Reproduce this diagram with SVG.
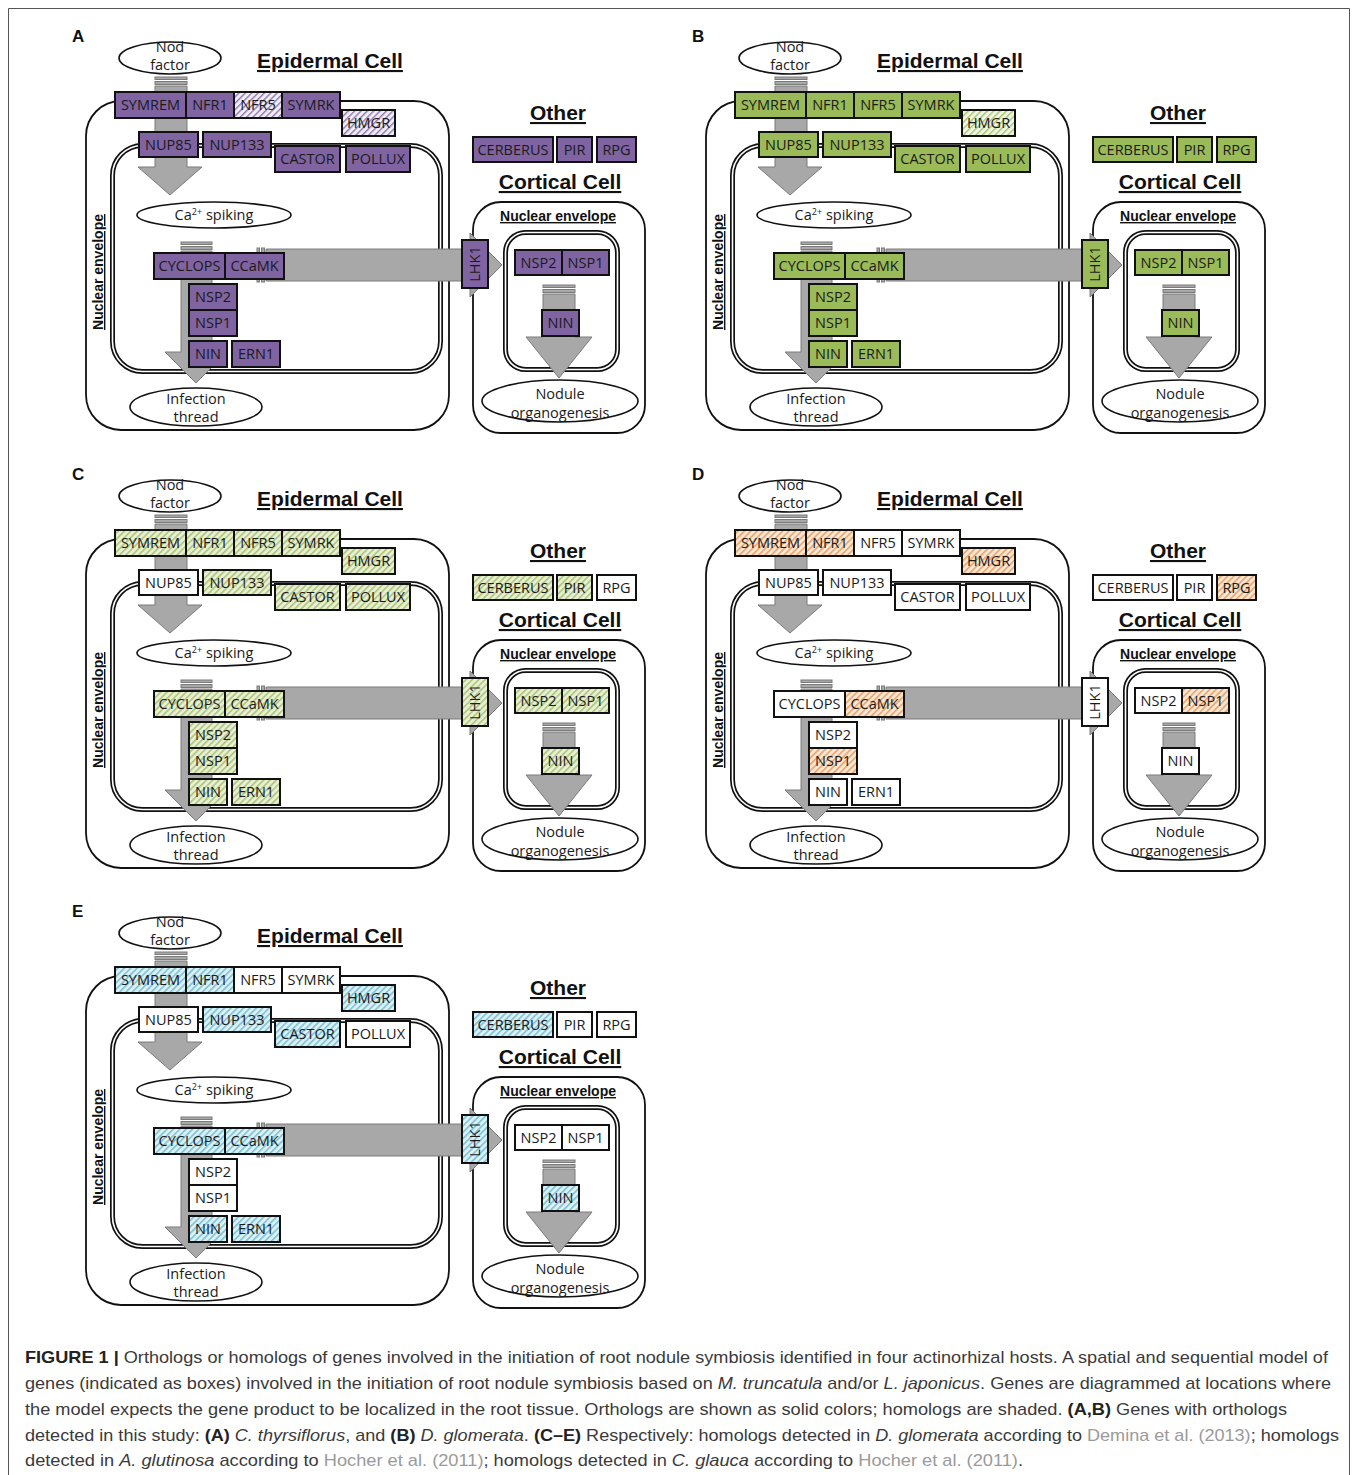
<svg xmlns="http://www.w3.org/2000/svg" width="1358" height="1475" viewBox="0 0 1358 1475">
<defs>
<pattern id="hP" width="4.5" height="4.5" patternUnits="userSpaceOnUse" patternTransform="rotate(45)"><rect width="4.5" height="4.5" fill="#f1edf6"/><rect width="1.4" height="4.5" fill="#8e77b0"/></pattern>
<pattern id="hG" width="4.5" height="4.5" patternUnits="userSpaceOnUse" patternTransform="rotate(45)"><rect width="4.5" height="4.5" fill="#f0f5e4"/><rect width="1.4" height="4.5" fill="#a9c46e"/></pattern>
<pattern id="hC" width="4.5" height="4.5" patternUnits="userSpaceOnUse" patternTransform="rotate(45)"><rect width="4.5" height="4.5" fill="#e8efd6"/><rect width="1.6" height="4.5" fill="#adc676"/></pattern>
<pattern id="hO" width="4.5" height="4.5" patternUnits="userSpaceOnUse" patternTransform="rotate(45)"><rect width="4.5" height="4.5" fill="#fce6d4"/><rect width="1.6" height="4.5" fill="#e8a56c"/></pattern>
<pattern id="hB" width="4.5" height="4.5" patternUnits="userSpaceOnUse" patternTransform="rotate(45)"><rect width="4.5" height="4.5" fill="#dcf0f5"/><rect width="1.6" height="4.5" fill="#7cc2d6"/></pattern>
<style>
text{font-family:"Liberation Sans",Arial,sans-serif}
.cell{fill:none;stroke:#111;stroke-width:1.8}
.dA{fill:none;stroke:#111;stroke-width:5}
.dB{fill:none;stroke:#fff;stroke-width:1.6}
.arr{fill:#a8a8a8;stroke:#7a7a7a;stroke-width:1}
.ell{fill:#fff;stroke:#111;stroke-width:1.6}
.bx rect{stroke:#111;stroke-width:2}
.t{font-family:"Open Sans","Liberation Sans",sans-serif;font-size:14.5px;fill:#1a1a1a;text-anchor:middle}
.h{font-size:21px;font-weight:bold;text-decoration:underline;text-anchor:middle;fill:#111}
.ne{font-size:14px;font-weight:bold;text-decoration:underline;text-anchor:middle;fill:#111}
.pl{font-size:17px;font-weight:bold;fill:#111}
.p{fill:#8064a2}.pH{fill:url(#hP)}.g{fill:#9bbb59}.gH{fill:url(#hG)}.c{fill:url(#hC)}.o{fill:url(#hO)}.b{fill:url(#hB)}.w{fill:#fff}
.cap{font-size:17px;fill:#3a3a3a}
.ref{fill:#9a9a9a}
</style>
</defs>
<rect width="1358" height="1475" fill="#fff"/>
<path d="M8.5,1475 V8.5 H1349.5 V1475" fill="none" stroke="#555" stroke-width="1"/>

<!-- PANEL A -->
<g id="panelA">
<text class="pl" x="72" y="42">A</text>
<g id="A-cells">
<rect class="cell" x="86" y="101" width="363" height="329" rx="35"/>
<rect class="dA" x="112.5" y="145.5" width="328" height="226" rx="30"/><rect class="dB" x="112.5" y="145.5" width="328" height="226" rx="30"/>
<rect class="cell" x="473" y="202" width="172" height="231" rx="28"/>
<rect class="dA" x="505.5" y="232.5" width="112" height="137" rx="20"/><rect class="dB" x="505.5" y="232.5" width="112" height="137" rx="20"/>
</g>
<g id="A-connectors">
<rect class="arr" x="155" y="77" width="32" height="2.5"/><rect class="arr" x="155" y="81.5" width="32" height="3"/>
<polygon class="arr" points="155,86 187,86 187,167 202,167 170,195 138,167 155,167"/>
<rect class="arr" x="181" y="242" width="31" height="2.5"/><rect class="arr" x="181" y="246.5" width="31" height="3"/>
<polygon class="arr" points="181,251 212,251 212,352 227,352 196,383 165,352 181,352"/>
<rect class="arr" x="257" y="248" width="2.5" height="34"/><rect class="arr" x="261.5" y="248" width="3" height="34"/>
<polygon class="arr" points="266,249 470,249 470,233 502,265 470,297 470,281 266,281"/>
<rect class="arr" x="543" y="285" width="32" height="2.5"/><rect class="arr" x="543" y="289.5" width="32" height="3"/>
<polygon class="arr" points="543,294 575,294 575,337 592,337 559,378 526,337 543,337"/>
</g>
<g id="A-nod"><ellipse class="ell" cx="170" cy="58" rx="51" ry="16"/><text class="t" x="170" y="52">Nod</text><text class="t" x="170" y="70">factor</text></g>
<g id="A-ca"><ellipse class="ell" cx="214" cy="215" rx="77" ry="13"/><text class="t" x="214" y="220">Ca<tspan font-size="9" dy="-5">2+</tspan><tspan dy="5"> spiking</tspan></text></g>
<g id="A-it"><ellipse class="ell" cx="196" cy="407" rx="66" ry="19"/><text class="t" x="196" y="404">Infection</text><text class="t" x="196" y="422">thread</text></g>
<g id="A-no"><ellipse class="ell" cx="560" cy="401" rx="78" ry="21"/><text class="t" x="560" y="399">Nodule</text><text class="t" x="560" y="418">organogenesis</text></g>
<g id="A-SYMREM" class="bx"><rect class="p" x="115" y="92" width="71" height="26"/><text class="t" x="150.5" y="110">SYMREM</text></g>
<g id="A-NFR1" class="bx"><rect class="p" x="186" y="92" width="48" height="26"/><text class="t" x="210" y="110">NFR1</text></g>
<g id="A-NFR5" class="bx"><rect class="pH" x="234" y="92" width="48" height="26"/><text class="t" x="258" y="110">NFR5</text></g>
<g id="A-SYMRK" class="bx"><rect class="p" x="282" y="92" width="58" height="26"/><text class="t" x="311" y="110">SYMRK</text></g>
<g id="A-HMGR" class="bx"><rect class="pH" x="342" y="110" width="53" height="26"/><text class="t" x="368.5" y="128">HMGR</text></g>
<g id="A-NUP85" class="bx"><rect class="p" x="139" y="132" width="59" height="25"/><text class="t" x="168.5" y="149.5">NUP85</text></g>
<g id="A-NUP133" class="bx"><rect class="p" x="203" y="132" width="68" height="25"/><text class="t" x="237" y="149.5">NUP133</text></g>
<g id="A-CASTOR" class="bx"><rect class="p" x="275" y="146" width="65" height="26"/><text class="t" x="307.5" y="164">CASTOR</text></g>
<g id="A-POLLUX" class="bx"><rect class="p" x="346" y="146" width="64" height="26"/><text class="t" x="378" y="164">POLLUX</text></g>
<g id="A-CERBERUS" class="bx"><rect class="p" x="473" y="137" width="80" height="25"/><text class="t" x="513" y="154.5">CERBERUS</text></g>
<g id="A-PIR" class="bx"><rect class="p" x="557" y="137" width="35" height="25"/><text class="t" x="574.5" y="154.5">PIR</text></g>
<g id="A-RPG" class="bx"><rect class="p" x="597" y="137" width="39" height="25"/><text class="t" x="616.5" y="154.5">RPG</text></g>
<g id="A-CYCLOPS" class="bx"><rect class="p" x="154" y="253" width="71" height="26"/><text class="t" x="189.5" y="271">CYCLOPS</text></g>
<g id="A-CCaMK" class="bx"><rect class="p" x="225" y="253" width="59" height="26"/><text class="t" x="254.5" y="271">CCaMK</text></g>
<g id="A-NSP2" class="bx"><rect class="p" x="189" y="284" width="48" height="26"/><text class="t" x="213" y="302">NSP2</text></g>
<g id="A-NSP1" class="bx"><rect class="p" x="189" y="310" width="48" height="26"/><text class="t" x="213" y="328">NSP1</text></g>
<g id="A-NIN" class="bx"><rect class="p" x="189" y="341" width="38" height="26"/><text class="t" x="208" y="359">NIN</text></g>
<g id="A-ERN1" class="bx"><rect class="p" x="232" y="341" width="48" height="26"/><text class="t" x="256" y="359">ERN1</text></g>
<g id="A-LHK1" class="bx"><rect class="p" x="462" y="240" width="26" height="48"/><text class="t" transform="translate(475,264) rotate(-90)" x="0" y="5">LHK1</text></g>
<g id="A-cNSP2" class="bx"><rect class="p" x="515" y="250" width="47" height="25"/><text class="t" x="538.5" y="267.5">NSP2</text></g>
<g id="A-cNSP1" class="bx"><rect class="p" x="562" y="250" width="47" height="25"/><text class="t" x="585.5" y="267.5">NSP1</text></g>
<g id="A-cNIN" class="bx"><rect class="p" x="542" y="310" width="37" height="26"/><text class="t" x="560.5" y="328">NIN</text></g>
<text class="h" x="330" y="68">Epidermal Cell</text>
<text class="h" x="558" y="120">Other</text>
<text class="h" x="560" y="189">Cortical Cell</text>
<text class="ne" x="558" y="221">Nuclear envelope</text>
<text class="ne" transform="translate(103,272) rotate(-90)" x="0" y="0">Nuclear envelope</text>
</g>

<!-- PANEL B -->
<g id="panelB" transform="translate(620,0)">
<text class="pl" x="72" y="42">B</text>
<g id="B-cells">
<rect class="cell" x="86" y="101" width="363" height="329" rx="35"/>
<rect class="dA" x="112.5" y="145.5" width="328" height="226" rx="30"/><rect class="dB" x="112.5" y="145.5" width="328" height="226" rx="30"/>
<rect class="cell" x="473" y="202" width="172" height="231" rx="28"/>
<rect class="dA" x="505.5" y="232.5" width="112" height="137" rx="20"/><rect class="dB" x="505.5" y="232.5" width="112" height="137" rx="20"/>
</g>
<g id="B-connectors">
<rect class="arr" x="155" y="77" width="32" height="2.5"/><rect class="arr" x="155" y="81.5" width="32" height="3"/>
<polygon class="arr" points="155,86 187,86 187,167 202,167 170,195 138,167 155,167"/>
<rect class="arr" x="181" y="242" width="31" height="2.5"/><rect class="arr" x="181" y="246.5" width="31" height="3"/>
<polygon class="arr" points="181,251 212,251 212,352 227,352 196,383 165,352 181,352"/>
<rect class="arr" x="257" y="248" width="2.5" height="34"/><rect class="arr" x="261.5" y="248" width="3" height="34"/>
<polygon class="arr" points="266,249 470,249 470,233 502,265 470,297 470,281 266,281"/>
<rect class="arr" x="543" y="285" width="32" height="2.5"/><rect class="arr" x="543" y="289.5" width="32" height="3"/>
<polygon class="arr" points="543,294 575,294 575,337 592,337 559,378 526,337 543,337"/>
</g>
<g id="B-nod"><ellipse class="ell" cx="170" cy="58" rx="51" ry="16"/><text class="t" x="170" y="52">Nod</text><text class="t" x="170" y="70">factor</text></g>
<g id="B-ca"><ellipse class="ell" cx="214" cy="215" rx="77" ry="13"/><text class="t" x="214" y="220">Ca<tspan font-size="9" dy="-5">2+</tspan><tspan dy="5"> spiking</tspan></text></g>
<g id="B-it"><ellipse class="ell" cx="196" cy="407" rx="66" ry="19"/><text class="t" x="196" y="404">Infection</text><text class="t" x="196" y="422">thread</text></g>
<g id="B-no"><ellipse class="ell" cx="560" cy="401" rx="78" ry="21"/><text class="t" x="560" y="399">Nodule</text><text class="t" x="560" y="418">organogenesis</text></g>
<g id="B-SYMREM" class="bx"><rect class="g" x="115" y="92" width="71" height="26"/><text class="t" x="150.5" y="110">SYMREM</text></g>
<g id="B-NFR1" class="bx"><rect class="g" x="186" y="92" width="48" height="26"/><text class="t" x="210" y="110">NFR1</text></g>
<g id="B-NFR5" class="bx"><rect class="g" x="234" y="92" width="48" height="26"/><text class="t" x="258" y="110">NFR5</text></g>
<g id="B-SYMRK" class="bx"><rect class="g" x="282" y="92" width="58" height="26"/><text class="t" x="311" y="110">SYMRK</text></g>
<g id="B-HMGR" class="bx"><rect class="gH" x="342" y="110" width="53" height="26"/><text class="t" x="368.5" y="128">HMGR</text></g>
<g id="B-NUP85" class="bx"><rect class="g" x="139" y="132" width="59" height="25"/><text class="t" x="168.5" y="149.5">NUP85</text></g>
<g id="B-NUP133" class="bx"><rect class="g" x="203" y="132" width="68" height="25"/><text class="t" x="237" y="149.5">NUP133</text></g>
<g id="B-CASTOR" class="bx"><rect class="g" x="275" y="146" width="65" height="26"/><text class="t" x="307.5" y="164">CASTOR</text></g>
<g id="B-POLLUX" class="bx"><rect class="g" x="346" y="146" width="64" height="26"/><text class="t" x="378" y="164">POLLUX</text></g>
<g id="B-CERBERUS" class="bx"><rect class="g" x="473" y="137" width="80" height="25"/><text class="t" x="513" y="154.5">CERBERUS</text></g>
<g id="B-PIR" class="bx"><rect class="g" x="557" y="137" width="35" height="25"/><text class="t" x="574.5" y="154.5">PIR</text></g>
<g id="B-RPG" class="bx"><rect class="g" x="597" y="137" width="39" height="25"/><text class="t" x="616.5" y="154.5">RPG</text></g>
<g id="B-CYCLOPS" class="bx"><rect class="g" x="154" y="253" width="71" height="26"/><text class="t" x="189.5" y="271">CYCLOPS</text></g>
<g id="B-CCaMK" class="bx"><rect class="g" x="225" y="253" width="59" height="26"/><text class="t" x="254.5" y="271">CCaMK</text></g>
<g id="B-NSP2" class="bx"><rect class="g" x="189" y="284" width="48" height="26"/><text class="t" x="213" y="302">NSP2</text></g>
<g id="B-NSP1" class="bx"><rect class="g" x="189" y="310" width="48" height="26"/><text class="t" x="213" y="328">NSP1</text></g>
<g id="B-NIN" class="bx"><rect class="g" x="189" y="341" width="38" height="26"/><text class="t" x="208" y="359">NIN</text></g>
<g id="B-ERN1" class="bx"><rect class="g" x="232" y="341" width="48" height="26"/><text class="t" x="256" y="359">ERN1</text></g>
<g id="B-LHK1" class="bx"><rect class="g" x="462" y="240" width="26" height="48"/><text class="t" transform="translate(475,264) rotate(-90)" x="0" y="5">LHK1</text></g>
<g id="B-cNSP2" class="bx"><rect class="g" x="515" y="250" width="47" height="25"/><text class="t" x="538.5" y="267.5">NSP2</text></g>
<g id="B-cNSP1" class="bx"><rect class="g" x="562" y="250" width="47" height="25"/><text class="t" x="585.5" y="267.5">NSP1</text></g>
<g id="B-cNIN" class="bx"><rect class="g" x="542" y="310" width="37" height="26"/><text class="t" x="560.5" y="328">NIN</text></g>
<text class="h" x="330" y="68">Epidermal Cell</text>
<text class="h" x="558" y="120">Other</text>
<text class="h" x="560" y="189">Cortical Cell</text>
<text class="ne" x="558" y="221">Nuclear envelope</text>
<text class="ne" transform="translate(103,272) rotate(-90)" x="0" y="0">Nuclear envelope</text>
</g>

<!-- PANEL C -->
<g id="panelC" transform="translate(0,438)">
<text class="pl" x="72" y="42">C</text>
<g id="C-cells">
<rect class="cell" x="86" y="101" width="363" height="329" rx="35"/>
<rect class="dA" x="112.5" y="145.5" width="328" height="226" rx="30"/><rect class="dB" x="112.5" y="145.5" width="328" height="226" rx="30"/>
<rect class="cell" x="473" y="202" width="172" height="231" rx="28"/>
<rect class="dA" x="505.5" y="232.5" width="112" height="137" rx="20"/><rect class="dB" x="505.5" y="232.5" width="112" height="137" rx="20"/>
</g>
<g id="C-connectors">
<rect class="arr" x="155" y="77" width="32" height="2.5"/><rect class="arr" x="155" y="81.5" width="32" height="3"/>
<polygon class="arr" points="155,86 187,86 187,167 202,167 170,195 138,167 155,167"/>
<rect class="arr" x="181" y="242" width="31" height="2.5"/><rect class="arr" x="181" y="246.5" width="31" height="3"/>
<polygon class="arr" points="181,251 212,251 212,352 227,352 196,383 165,352 181,352"/>
<rect class="arr" x="257" y="248" width="2.5" height="34"/><rect class="arr" x="261.5" y="248" width="3" height="34"/>
<polygon class="arr" points="266,249 470,249 470,233 502,265 470,297 470,281 266,281"/>
<rect class="arr" x="543" y="285" width="32" height="2.5"/><rect class="arr" x="543" y="289.5" width="32" height="3"/>
<polygon class="arr" points="543,294 575,294 575,337 592,337 559,378 526,337 543,337"/>
</g>
<g id="C-nod"><ellipse class="ell" cx="170" cy="58" rx="51" ry="16"/><text class="t" x="170" y="52">Nod</text><text class="t" x="170" y="70">factor</text></g>
<g id="C-ca"><ellipse class="ell" cx="214" cy="215" rx="77" ry="13"/><text class="t" x="214" y="220">Ca<tspan font-size="9" dy="-5">2+</tspan><tspan dy="5"> spiking</tspan></text></g>
<g id="C-it"><ellipse class="ell" cx="196" cy="407" rx="66" ry="19"/><text class="t" x="196" y="404">Infection</text><text class="t" x="196" y="422">thread</text></g>
<g id="C-no"><ellipse class="ell" cx="560" cy="401" rx="78" ry="21"/><text class="t" x="560" y="399">Nodule</text><text class="t" x="560" y="418">organogenesis</text></g>
<g id="C-SYMREM" class="bx"><rect class="c" x="115" y="92" width="71" height="26"/><text class="t" x="150.5" y="110">SYMREM</text></g>
<g id="C-NFR1" class="bx"><rect class="c" x="186" y="92" width="48" height="26"/><text class="t" x="210" y="110">NFR1</text></g>
<g id="C-NFR5" class="bx"><rect class="c" x="234" y="92" width="48" height="26"/><text class="t" x="258" y="110">NFR5</text></g>
<g id="C-SYMRK" class="bx"><rect class="c" x="282" y="92" width="58" height="26"/><text class="t" x="311" y="110">SYMRK</text></g>
<g id="C-HMGR" class="bx"><rect class="c" x="342" y="110" width="53" height="26"/><text class="t" x="368.5" y="128">HMGR</text></g>
<g id="C-NUP85" class="bx"><rect class="w" x="139" y="132" width="59" height="25"/><text class="t" x="168.5" y="149.5">NUP85</text></g>
<g id="C-NUP133" class="bx"><rect class="c" x="203" y="132" width="68" height="25"/><text class="t" x="237" y="149.5">NUP133</text></g>
<g id="C-CASTOR" class="bx"><rect class="c" x="275" y="146" width="65" height="26"/><text class="t" x="307.5" y="164">CASTOR</text></g>
<g id="C-POLLUX" class="bx"><rect class="c" x="346" y="146" width="64" height="26"/><text class="t" x="378" y="164">POLLUX</text></g>
<g id="C-CERBERUS" class="bx"><rect class="c" x="473" y="137" width="80" height="25"/><text class="t" x="513" y="154.5">CERBERUS</text></g>
<g id="C-PIR" class="bx"><rect class="c" x="557" y="137" width="35" height="25"/><text class="t" x="574.5" y="154.5">PIR</text></g>
<g id="C-RPG" class="bx"><rect class="w" x="597" y="137" width="39" height="25"/><text class="t" x="616.5" y="154.5">RPG</text></g>
<g id="C-CYCLOPS" class="bx"><rect class="c" x="154" y="253" width="71" height="26"/><text class="t" x="189.5" y="271">CYCLOPS</text></g>
<g id="C-CCaMK" class="bx"><rect class="c" x="225" y="253" width="59" height="26"/><text class="t" x="254.5" y="271">CCaMK</text></g>
<g id="C-NSP2" class="bx"><rect class="c" x="189" y="284" width="48" height="26"/><text class="t" x="213" y="302">NSP2</text></g>
<g id="C-NSP1" class="bx"><rect class="c" x="189" y="310" width="48" height="26"/><text class="t" x="213" y="328">NSP1</text></g>
<g id="C-NIN" class="bx"><rect class="c" x="189" y="341" width="38" height="26"/><text class="t" x="208" y="359">NIN</text></g>
<g id="C-ERN1" class="bx"><rect class="c" x="232" y="341" width="48" height="26"/><text class="t" x="256" y="359">ERN1</text></g>
<g id="C-LHK1" class="bx"><rect class="c" x="462" y="240" width="26" height="48"/><text class="t" transform="translate(475,264) rotate(-90)" x="0" y="5">LHK1</text></g>
<g id="C-cNSP2" class="bx"><rect class="c" x="515" y="250" width="47" height="25"/><text class="t" x="538.5" y="267.5">NSP2</text></g>
<g id="C-cNSP1" class="bx"><rect class="c" x="562" y="250" width="47" height="25"/><text class="t" x="585.5" y="267.5">NSP1</text></g>
<g id="C-cNIN" class="bx"><rect class="c" x="542" y="310" width="37" height="26"/><text class="t" x="560.5" y="328">NIN</text></g>
<text class="h" x="330" y="68">Epidermal Cell</text>
<text class="h" x="558" y="120">Other</text>
<text class="h" x="560" y="189">Cortical Cell</text>
<text class="ne" x="558" y="221">Nuclear envelope</text>
<text class="ne" transform="translate(103,272) rotate(-90)" x="0" y="0">Nuclear envelope</text>
</g>

<!-- PANEL D -->
<g id="panelD" transform="translate(620,438)">
<text class="pl" x="72" y="42">D</text>
<g id="D-cells">
<rect class="cell" x="86" y="101" width="363" height="329" rx="35"/>
<rect class="dA" x="112.5" y="145.5" width="328" height="226" rx="30"/><rect class="dB" x="112.5" y="145.5" width="328" height="226" rx="30"/>
<rect class="cell" x="473" y="202" width="172" height="231" rx="28"/>
<rect class="dA" x="505.5" y="232.5" width="112" height="137" rx="20"/><rect class="dB" x="505.5" y="232.5" width="112" height="137" rx="20"/>
</g>
<g id="D-connectors">
<rect class="arr" x="155" y="77" width="32" height="2.5"/><rect class="arr" x="155" y="81.5" width="32" height="3"/>
<polygon class="arr" points="155,86 187,86 187,167 202,167 170,195 138,167 155,167"/>
<rect class="arr" x="181" y="242" width="31" height="2.5"/><rect class="arr" x="181" y="246.5" width="31" height="3"/>
<polygon class="arr" points="181,251 212,251 212,352 227,352 196,383 165,352 181,352"/>
<rect class="arr" x="257" y="248" width="2.5" height="34"/><rect class="arr" x="261.5" y="248" width="3" height="34"/>
<polygon class="arr" points="266,249 470,249 470,233 502,265 470,297 470,281 266,281"/>
<rect class="arr" x="543" y="285" width="32" height="2.5"/><rect class="arr" x="543" y="289.5" width="32" height="3"/>
<polygon class="arr" points="543,294 575,294 575,337 592,337 559,378 526,337 543,337"/>
</g>
<g id="D-nod"><ellipse class="ell" cx="170" cy="58" rx="51" ry="16"/><text class="t" x="170" y="52">Nod</text><text class="t" x="170" y="70">factor</text></g>
<g id="D-ca"><ellipse class="ell" cx="214" cy="215" rx="77" ry="13"/><text class="t" x="214" y="220">Ca<tspan font-size="9" dy="-5">2+</tspan><tspan dy="5"> spiking</tspan></text></g>
<g id="D-it"><ellipse class="ell" cx="196" cy="407" rx="66" ry="19"/><text class="t" x="196" y="404">Infection</text><text class="t" x="196" y="422">thread</text></g>
<g id="D-no"><ellipse class="ell" cx="560" cy="401" rx="78" ry="21"/><text class="t" x="560" y="399">Nodule</text><text class="t" x="560" y="418">organogenesis</text></g>
<g id="D-SYMREM" class="bx"><rect class="o" x="115" y="92" width="71" height="26"/><text class="t" x="150.5" y="110">SYMREM</text></g>
<g id="D-NFR1" class="bx"><rect class="o" x="186" y="92" width="48" height="26"/><text class="t" x="210" y="110">NFR1</text></g>
<g id="D-NFR5" class="bx"><rect class="w" x="234" y="92" width="48" height="26"/><text class="t" x="258" y="110">NFR5</text></g>
<g id="D-SYMRK" class="bx"><rect class="w" x="282" y="92" width="58" height="26"/><text class="t" x="311" y="110">SYMRK</text></g>
<g id="D-HMGR" class="bx"><rect class="o" x="342" y="110" width="53" height="26"/><text class="t" x="368.5" y="128">HMGR</text></g>
<g id="D-NUP85" class="bx"><rect class="w" x="139" y="132" width="59" height="25"/><text class="t" x="168.5" y="149.5">NUP85</text></g>
<g id="D-NUP133" class="bx"><rect class="w" x="203" y="132" width="68" height="25"/><text class="t" x="237" y="149.5">NUP133</text></g>
<g id="D-CASTOR" class="bx"><rect class="w" x="275" y="146" width="65" height="26"/><text class="t" x="307.5" y="164">CASTOR</text></g>
<g id="D-POLLUX" class="bx"><rect class="w" x="346" y="146" width="64" height="26"/><text class="t" x="378" y="164">POLLUX</text></g>
<g id="D-CERBERUS" class="bx"><rect class="w" x="473" y="137" width="80" height="25"/><text class="t" x="513" y="154.5">CERBERUS</text></g>
<g id="D-PIR" class="bx"><rect class="w" x="557" y="137" width="35" height="25"/><text class="t" x="574.5" y="154.5">PIR</text></g>
<g id="D-RPG" class="bx"><rect class="o" x="597" y="137" width="39" height="25"/><text class="t" x="616.5" y="154.5">RPG</text></g>
<g id="D-CYCLOPS" class="bx"><rect class="w" x="154" y="253" width="71" height="26"/><text class="t" x="189.5" y="271">CYCLOPS</text></g>
<g id="D-CCaMK" class="bx"><rect class="o" x="225" y="253" width="59" height="26"/><text class="t" x="254.5" y="271">CCaMK</text></g>
<g id="D-NSP2" class="bx"><rect class="w" x="189" y="284" width="48" height="26"/><text class="t" x="213" y="302">NSP2</text></g>
<g id="D-NSP1" class="bx"><rect class="o" x="189" y="310" width="48" height="26"/><text class="t" x="213" y="328">NSP1</text></g>
<g id="D-NIN" class="bx"><rect class="w" x="189" y="341" width="38" height="26"/><text class="t" x="208" y="359">NIN</text></g>
<g id="D-ERN1" class="bx"><rect class="w" x="232" y="341" width="48" height="26"/><text class="t" x="256" y="359">ERN1</text></g>
<g id="D-LHK1" class="bx"><rect class="w" x="462" y="240" width="26" height="48"/><text class="t" transform="translate(475,264) rotate(-90)" x="0" y="5">LHK1</text></g>
<g id="D-cNSP2" class="bx"><rect class="w" x="515" y="250" width="47" height="25"/><text class="t" x="538.5" y="267.5">NSP2</text></g>
<g id="D-cNSP1" class="bx"><rect class="o" x="562" y="250" width="47" height="25"/><text class="t" x="585.5" y="267.5">NSP1</text></g>
<g id="D-cNIN" class="bx"><rect class="w" x="542" y="310" width="37" height="26"/><text class="t" x="560.5" y="328">NIN</text></g>
<text class="h" x="330" y="68">Epidermal Cell</text>
<text class="h" x="558" y="120">Other</text>
<text class="h" x="560" y="189">Cortical Cell</text>
<text class="ne" x="558" y="221">Nuclear envelope</text>
<text class="ne" transform="translate(103,272) rotate(-90)" x="0" y="0">Nuclear envelope</text>
</g>

<!-- PANEL E -->
<g id="panelE" transform="translate(0,875)">
<text class="pl" x="72" y="42">E</text>
<g id="E-cells">
<rect class="cell" x="86" y="101" width="363" height="329" rx="35"/>
<rect class="dA" x="112.5" y="145.5" width="328" height="226" rx="30"/><rect class="dB" x="112.5" y="145.5" width="328" height="226" rx="30"/>
<rect class="cell" x="473" y="202" width="172" height="231" rx="28"/>
<rect class="dA" x="505.5" y="232.5" width="112" height="137" rx="20"/><rect class="dB" x="505.5" y="232.5" width="112" height="137" rx="20"/>
</g>
<g id="E-connectors">
<rect class="arr" x="155" y="77" width="32" height="2.5"/><rect class="arr" x="155" y="81.5" width="32" height="3"/>
<polygon class="arr" points="155,86 187,86 187,167 202,167 170,195 138,167 155,167"/>
<rect class="arr" x="181" y="242" width="31" height="2.5"/><rect class="arr" x="181" y="246.5" width="31" height="3"/>
<polygon class="arr" points="181,251 212,251 212,352 227,352 196,383 165,352 181,352"/>
<rect class="arr" x="257" y="248" width="2.5" height="34"/><rect class="arr" x="261.5" y="248" width="3" height="34"/>
<polygon class="arr" points="266,249 470,249 470,233 502,265 470,297 470,281 266,281"/>
<rect class="arr" x="543" y="285" width="32" height="2.5"/><rect class="arr" x="543" y="289.5" width="32" height="3"/>
<polygon class="arr" points="543,294 575,294 575,337 592,337 559,378 526,337 543,337"/>
</g>
<g id="E-nod"><ellipse class="ell" cx="170" cy="58" rx="51" ry="16"/><text class="t" x="170" y="52">Nod</text><text class="t" x="170" y="70">factor</text></g>
<g id="E-ca"><ellipse class="ell" cx="214" cy="215" rx="77" ry="13"/><text class="t" x="214" y="220">Ca<tspan font-size="9" dy="-5">2+</tspan><tspan dy="5"> spiking</tspan></text></g>
<g id="E-it"><ellipse class="ell" cx="196" cy="407" rx="66" ry="19"/><text class="t" x="196" y="404">Infection</text><text class="t" x="196" y="422">thread</text></g>
<g id="E-no"><ellipse class="ell" cx="560" cy="401" rx="78" ry="21"/><text class="t" x="560" y="399">Nodule</text><text class="t" x="560" y="418">organogenesis</text></g>
<g id="E-SYMREM" class="bx"><rect class="b" x="115" y="92" width="71" height="26"/><text class="t" x="150.5" y="110">SYMREM</text></g>
<g id="E-NFR1" class="bx"><rect class="b" x="186" y="92" width="48" height="26"/><text class="t" x="210" y="110">NFR1</text></g>
<g id="E-NFR5" class="bx"><rect class="w" x="234" y="92" width="48" height="26"/><text class="t" x="258" y="110">NFR5</text></g>
<g id="E-SYMRK" class="bx"><rect class="w" x="282" y="92" width="58" height="26"/><text class="t" x="311" y="110">SYMRK</text></g>
<g id="E-HMGR" class="bx"><rect class="b" x="342" y="110" width="53" height="26"/><text class="t" x="368.5" y="128">HMGR</text></g>
<g id="E-NUP85" class="bx"><rect class="w" x="139" y="132" width="59" height="25"/><text class="t" x="168.5" y="149.5">NUP85</text></g>
<g id="E-NUP133" class="bx"><rect class="b" x="203" y="132" width="68" height="25"/><text class="t" x="237" y="149.5">NUP133</text></g>
<g id="E-CASTOR" class="bx"><rect class="b" x="275" y="146" width="65" height="26"/><text class="t" x="307.5" y="164">CASTOR</text></g>
<g id="E-POLLUX" class="bx"><rect class="w" x="346" y="146" width="64" height="26"/><text class="t" x="378" y="164">POLLUX</text></g>
<g id="E-CERBERUS" class="bx"><rect class="b" x="473" y="137" width="80" height="25"/><text class="t" x="513" y="154.5">CERBERUS</text></g>
<g id="E-PIR" class="bx"><rect class="w" x="557" y="137" width="35" height="25"/><text class="t" x="574.5" y="154.5">PIR</text></g>
<g id="E-RPG" class="bx"><rect class="w" x="597" y="137" width="39" height="25"/><text class="t" x="616.5" y="154.5">RPG</text></g>
<g id="E-CYCLOPS" class="bx"><rect class="b" x="154" y="253" width="71" height="26"/><text class="t" x="189.5" y="271">CYCLOPS</text></g>
<g id="E-CCaMK" class="bx"><rect class="b" x="225" y="253" width="59" height="26"/><text class="t" x="254.5" y="271">CCaMK</text></g>
<g id="E-NSP2" class="bx"><rect class="w" x="189" y="284" width="48" height="26"/><text class="t" x="213" y="302">NSP2</text></g>
<g id="E-NSP1" class="bx"><rect class="w" x="189" y="310" width="48" height="26"/><text class="t" x="213" y="328">NSP1</text></g>
<g id="E-NIN" class="bx"><rect class="b" x="189" y="341" width="38" height="26"/><text class="t" x="208" y="359">NIN</text></g>
<g id="E-ERN1" class="bx"><rect class="b" x="232" y="341" width="48" height="26"/><text class="t" x="256" y="359">ERN1</text></g>
<g id="E-LHK1" class="bx"><rect class="b" x="462" y="240" width="26" height="48"/><text class="t" transform="translate(475,264) rotate(-90)" x="0" y="5">LHK1</text></g>
<g id="E-cNSP2" class="bx"><rect class="w" x="515" y="250" width="47" height="25"/><text class="t" x="538.5" y="267.5">NSP2</text></g>
<g id="E-cNSP1" class="bx"><rect class="w" x="562" y="250" width="47" height="25"/><text class="t" x="585.5" y="267.5">NSP1</text></g>
<g id="E-cNIN" class="bx"><rect class="b" x="542" y="310" width="37" height="26"/><text class="t" x="560.5" y="328">NIN</text></g>
<text class="h" x="330" y="68">Epidermal Cell</text>
<text class="h" x="558" y="120">Other</text>
<text class="h" x="560" y="189">Cortical Cell</text>
<text class="ne" x="558" y="221">Nuclear envelope</text>
<text class="ne" transform="translate(103,272) rotate(-90)" x="0" y="0">Nuclear envelope</text>
</g>

<!-- CAPTION -->
<g id="caption" class="cap">
<text class="cap" x="25" y="1363" textLength="1303" lengthAdjust="spacingAndGlyphs"><tspan font-weight="bold" fill="#222">FIGURE 1 |</tspan> Orthologs or homologs of genes involved in the initiation of root nodule symbiosis identified in four actinorhizal hosts. A spatial and sequential model of</text>
<text class="cap" x="25" y="1389" textLength="1306" lengthAdjust="spacingAndGlyphs">genes (indicated as boxes) involved in the initiation of root nodule symbiosis based on <tspan font-style="italic">M. truncatula</tspan> and/or <tspan font-style="italic">L. japonicus</tspan>. Genes are diagrammed at locations where</text>
<text class="cap" x="25" y="1415" textLength="1262" lengthAdjust="spacingAndGlyphs">the model expects the gene product to be localized in the root tissue. Orthologs are shown as solid colors; homologs are shaded. <tspan font-weight="bold" fill="#222">(A,B)</tspan> Genes with orthologs</text>
<text class="cap" x="25" y="1441" textLength="1314" lengthAdjust="spacingAndGlyphs">detected in this study: <tspan font-weight="bold" fill="#222">(A)</tspan> <tspan font-style="italic">C. thyrsiflorus</tspan>, and <tspan font-weight="bold" fill="#222">(B)</tspan> <tspan font-style="italic">D. glomerata</tspan>. <tspan font-weight="bold" fill="#222">(C–E)</tspan> Respectively: homologs detected in <tspan font-style="italic">D. glomerata</tspan> according to <tspan class="ref">Demina et al. (2013)</tspan>; homologs</text>
<text class="cap" x="25" y="1466" textLength="998" lengthAdjust="spacingAndGlyphs">detected in <tspan font-style="italic">A. glutinosa</tspan> according to <tspan class="ref">Hocher et al. (2011)</tspan>; homologs detected in <tspan font-style="italic">C. glauca</tspan> according to <tspan class="ref">Hocher et al. (2011)</tspan>.</text>
</g>
</svg>
